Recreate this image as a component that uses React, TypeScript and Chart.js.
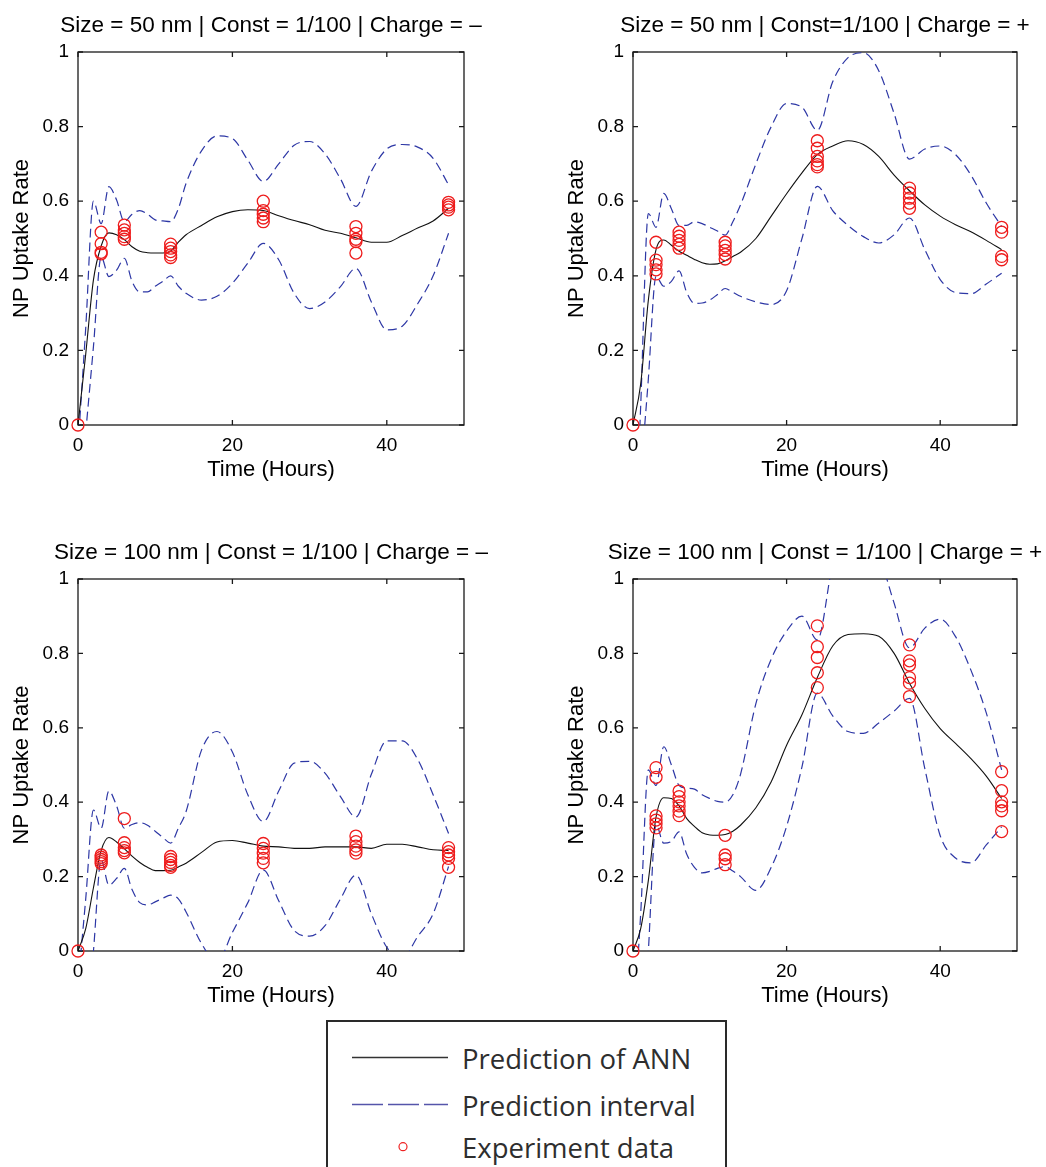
import React, { useEffect, useRef } from 'react';
import { Chart, registerables } from 'chart.js';

Chart.register(...registerables);

// ---------- shared data ----------
const HOURS = [0, 1, 2, 3, 4, 5, 6, 7, 8, 9, 10, 11, 12, 13, 14, 16, 18, 20, 22, 24, 26, 28, 30, 32, 34, 36, 38, 40, 42, 44, 46, 48];
const SAMPLE_HOURS = [0, 3, 6, 12, 24, 36, 48];
const X_TICKS = [0, 20, 40];
const Y_TICKS = [0, 0.2, 0.4, 0.6, 0.8, 1];
const X_LABEL = 'Time (Hours)';
const Y_LABEL = 'NP Uptake Rate';
const LEGEND_LABELS = ['Prediction of ANN', 'Prediction interval', 'Experiment data'];

// ---------- panel 1 : 50 nm, charge - ----------
const P1_TITLE = 'Size = 50 nm | Const = 1/100 | Charge = \u2013';
const P1_ANN = [0, 0.19, 0.389, 0.48, 0.515, 0.51, 0.497, 0.478, 0.466, 0.462, 0.461, 0.461, 0.466, 0.49, 0.51, 0.535, 0.558, 0.572, 0.577, 0.575, 0.561, 0.548, 0.537, 0.522, 0.514, 0.502, 0.49, 0.49, 0.508, 0.528, 0.547, 0.581];
const P1_UPPER = [-0.06, 0.26, 0.6, 0.54, 0.639, 0.603, 0.545, 0.565, 0.575, 0.565, 0.55, 0.547, 0.545, 0.58, 0.648, 0.735, 0.775, 0.768, 0.71, 0.653, 0.7, 0.75, 0.76, 0.727, 0.66, 0.586, 0.68, 0.74, 0.752, 0.745, 0.715, 0.644];
const P1_LOWER = [-0.25, -0.02, 0.21, 0.451, 0.398, 0.415, 0.447, 0.385, 0.357, 0.357, 0.372, 0.385, 0.4, 0.372, 0.353, 0.335, 0.345, 0.38, 0.434, 0.487, 0.443, 0.353, 0.312, 0.33, 0.371, 0.42, 0.33, 0.255, 0.265, 0.325, 0.4, 0.514];
const P1_EXP = [[0], [0.517, 0.486, 0.463, 0.459], [0.536, 0.523, 0.514, 0.505, 0.498], [0.485, 0.474, 0.465, 0.456, 0.449], [0.6, 0.575, 0.565, 0.555, 0.545], [0.532, 0.514, 0.498, 0.492, 0.461], [0.597, 0.59, 0.584, 0.577]];

// ---------- panel 2 : 50 nm, charge + ----------
const P2_TITLE = 'Size = 50 nm | Const=1/100 | Charge = +';
const P2_ANN = [0, 0.11, 0.335, 0.47, 0.496, 0.482, 0.466, 0.455, 0.444, 0.435, 0.431, 0.432, 0.44, 0.452, 0.463, 0.5, 0.56, 0.62, 0.676, 0.725, 0.748, 0.762, 0.752, 0.72, 0.67, 0.628, 0.59, 0.56, 0.537, 0.518, 0.495, 0.47];
const P2_UPPER = [-0.46, 0.05, 0.567, 0.53, 0.621, 0.58, 0.535, 0.535, 0.545, 0.54, 0.53, 0.52, 0.509, 0.545, 0.59, 0.7, 0.8, 0.862, 0.852, 0.79, 0.92, 0.985, 0.998, 0.95, 0.835, 0.713, 0.74, 0.748, 0.725, 0.67, 0.595, 0.532];
const P2_LOWER = [-0.6, -0.16, 0.124, 0.398, 0.372, 0.385, 0.413, 0.355, 0.326, 0.327, 0.335, 0.35, 0.366, 0.356, 0.345, 0.33, 0.323, 0.36, 0.5, 0.64, 0.575, 0.535, 0.505, 0.488, 0.51, 0.555, 0.47, 0.39, 0.355, 0.352, 0.378, 0.407];
const P2_EXP = [[0], [0.49, 0.442, 0.43, 0.416, 0.405], [0.517, 0.506, 0.495, 0.484, 0.474], [0.49, 0.48, 0.468, 0.457, 0.445], [0.762, 0.742, 0.72, 0.708, 0.698, 0.692], [0.635, 0.622, 0.608, 0.595, 0.581], [0.53, 0.517, 0.452, 0.443]];

// ---------- panel 3 : 100 nm, charge - ----------
const P3_TITLE = 'Size = 100 nm | Const = 1/100 | Charge = \u2013';
const P3_ANN = [0, 0.06, 0.17, 0.27, 0.305, 0.293, 0.275, 0.255, 0.238, 0.225, 0.216, 0.216, 0.217, 0.226, 0.236, 0.265, 0.293, 0.297, 0.29, 0.282, 0.28, 0.276, 0.276, 0.28, 0.28, 0.28, 0.276, 0.287, 0.287, 0.28, 0.272, 0.27];
const P3_UPPER = [-0.09, 0.14, 0.379, 0.33, 0.43, 0.39, 0.33, 0.34, 0.345, 0.338, 0.322, 0.305, 0.29, 0.33, 0.375, 0.54, 0.59, 0.535, 0.42, 0.348, 0.43, 0.505, 0.51, 0.478, 0.415, 0.36, 0.475, 0.565, 0.565, 0.515, 0.42, 0.316];
const P3_LOWER = [-0.5, -0.22, 0.0, 0.245, 0.177, 0.195, 0.222, 0.165, 0.13, 0.124, 0.132, 0.142, 0.15, 0.14, 0.105, 0.02, -0.03, 0.05, 0.13, 0.218, 0.135, 0.055, 0.04, 0.068, 0.14, 0.204, 0.1, 0.01, -0.02, 0.039, 0.1, 0.227];
const P3_EXP = [[0], [0.258, 0.252, 0.246, 0.24, 0.235], [0.356, 0.291, 0.278, 0.27, 0.264], [0.254, 0.246, 0.238, 0.23, 0.225], [0.289, 0.276, 0.263, 0.249, 0.237], [0.309, 0.294, 0.282, 0.272, 0.263], [0.278, 0.267, 0.258, 0.249, 0.225]];

// ---------- panel 4 : 100 nm, charge + ----------
const P4_TITLE = 'Size = 100 nm | Const = 1/100 | Charge = +';
const P4_ANN = [0, 0.06, 0.19, 0.36, 0.412, 0.41, 0.39, 0.356, 0.335, 0.318, 0.312, 0.311, 0.313, 0.322, 0.338, 0.385, 0.455, 0.553, 0.635, 0.735, 0.82, 0.851, 0.853, 0.846, 0.8, 0.72, 0.652, 0.598, 0.558, 0.517, 0.47, 0.41];
const P4_UPPER = [-0.23, 0.1, 0.487, 0.445, 0.549, 0.5, 0.445, 0.438, 0.435, 0.42, 0.41, 0.402, 0.4, 0.42, 0.475, 0.665, 0.785, 0.86, 0.9, 0.836, 1.04, 1.15, 1.17, 1.07, 0.935, 0.815, 0.868, 0.892, 0.845, 0.755, 0.64, 0.487];
const P4_LOWER = [-0.7, -0.35, 0.0, 0.34, 0.29, 0.295, 0.32, 0.26, 0.225, 0.21, 0.214, 0.222, 0.227, 0.215, 0.2, 0.163, 0.225, 0.335, 0.495, 0.693, 0.632, 0.59, 0.585, 0.613, 0.645, 0.679, 0.49, 0.31, 0.25, 0.237, 0.285, 0.334];
const P4_EXP = [[0], [0.493, 0.467, 0.363, 0.352, 0.342, 0.331], [0.43, 0.415, 0.401, 0.39, 0.376, 0.364], [0.311, 0.258, 0.248, 0.232], [0.874, 0.818, 0.789, 0.748, 0.708], [0.823, 0.78, 0.769, 0.735, 0.72, 0.684], [0.482, 0.431, 0.401, 0.39, 0.377, 0.321]];

// ---------- styling ----------
const FONT = '"Liberation Sans", Arial, Helvetica, sans-serif';
const ANN_COLOR = '#111111';
const PI_COLOR = 'rgb(45,55,165)';
const EXP_COLOR = '#ee1c1c';
const AXIS_COLOR = '#1a1a1a';
const Y_AXIS_W = 78;
const X_AXIS_H = 75;
const TOP_PAD = 52;
const RIGHT_PAD = 29;
const TICK_LEN = 5;

type PanelSpec = {
  title: string; ann: number[]; upper: number[]; lower: number[]; exp: number[][];
  L: number; T: number; R: number; B: number;
};

const PANELS: PanelSpec[] = [
  { title: P1_TITLE, ann: P1_ANN, upper: P1_UPPER, lower: P1_LOWER, exp: P1_EXP, L: 78, T: 52, R: 464, B: 425 },
  { title: P2_TITLE, ann: P2_ANN, upper: P2_UPPER, lower: P2_LOWER, exp: P2_EXP, L: 633, T: 52, R: 1017, B: 425 },
  { title: P3_TITLE, ann: P3_ANN, upper: P3_UPPER, lower: P3_LOWER, exp: P3_EXP, L: 78, T: 579, R: 464, B: 951 },
  { title: P4_TITLE, ann: P4_ANN, upper: P4_UPPER, lower: P4_LOWER, exp: P4_EXP, L: 633, T: 579, R: 1017, B: 951 },
];

const framePlugin = {
  id: 'frame',
  beforeDatasetsDraw(chart: any) {
    const { ctx, chartArea: a, scales } = chart;
    ctx.save();
    ctx.strokeStyle = AXIS_COLOR;
    ctx.lineWidth = 1.3;
    ctx.strokeRect(a.left, a.top, a.right - a.left, a.bottom - a.top);
    ctx.beginPath();
    for (const v of X_TICKS) {
      const px = scales.x.getPixelForValue(v);
      ctx.moveTo(px, a.bottom); ctx.lineTo(px, a.bottom - TICK_LEN);
      ctx.moveTo(px, a.top); ctx.lineTo(px, a.top + TICK_LEN);
    }
    for (const v of Y_TICKS) {
      const py = scales.y.getPixelForValue(v);
      ctx.moveTo(a.left, py); ctx.lineTo(a.left + TICK_LEN, py);
      ctx.moveTo(a.right, py); ctx.lineTo(a.right - TICK_LEN, py);
    }
    ctx.stroke();
    ctx.restore();
  },
  afterDraw(chart: any, _args: any, opts: any) {
    const { ctx, chartArea: a } = chart;
    ctx.save();
    ctx.fillStyle = '#000';
    ctx.font = `22.5px ${FONT}`;
    ctx.textAlign = 'center';
    ctx.textBaseline = 'alphabetic';
    ctx.fillText(opts.title, (a.left + a.right) / 2, a.top - 20);
    ctx.restore();
  },
};

function Panel({ spec }: { spec: PanelSpec }) {
  const ref = useRef<HTMLCanvasElement>(null);
  const left = spec.L - Y_AXIS_W;
  const top = spec.T - TOP_PAD;
  const width = spec.R - spec.L + Y_AXIS_W + RIGHT_PAD;
  const height = spec.B - spec.T + TOP_PAD + X_AXIS_H;

  useEffect(() => {
    const line = (vals: number[]) => HOURS.map((t, i) => ({ x: t, y: vals[i] }));
    const expPts = spec.exp.flatMap((ys, i) => ys.map((y) => ({ x: SAMPLE_HOURS[i], y })));
    const chart = new Chart(ref.current!, {
      type: 'scatter',
      data: {
        datasets: [
          {
            type: 'scatter', label: LEGEND_LABELS[2], data: expPts,
            pointRadius: 6, pointBorderWidth: 1.3, pointBorderColor: EXP_COLOR,
            pointBackgroundColor: 'rgba(0,0,0,0)', clip: false as any,
          } as any,
          {
            type: 'line', label: LEGEND_LABELS[0], data: line(spec.ann),
            borderColor: ANN_COLOR, borderWidth: 1.1, pointRadius: 0, fill: false,
            cubicInterpolationMode: 'monotone',
          },
          {
            type: 'line', label: LEGEND_LABELS[1], data: line(spec.upper),
            borderColor: PI_COLOR, borderWidth: 1.2, borderDash: [9, 5], pointRadius: 0, fill: false,
            cubicInterpolationMode: 'monotone',
          },
          {
            type: 'line', label: LEGEND_LABELS[1], data: line(spec.lower),
            borderColor: PI_COLOR, borderWidth: 1.2, borderDash: [9, 5], pointRadius: 0, fill: false,
            cubicInterpolationMode: 'monotone',
          },
        ],
      },
      options: {
        responsive: false,
        animation: false,
        events: [],
        layout: { padding: { left: 0, top: TOP_PAD, right: RIGHT_PAD, bottom: 0 } },
        plugins: {
          legend: { display: false },
          tooltip: { enabled: false },
          frame: { title: spec.title },
        } as any,
        scales: {
          x: {
            type: 'linear', min: 0, max: 50,
            grid: { display: false, drawTicks: false },
            border: { display: false },
            afterBuildTicks: (s: any) => { s.ticks = X_TICKS.map((v) => ({ value: v })); },
            afterFit: (s: any) => { s.height = X_AXIS_H; },
            ticks: {
              color: '#000', padding: 9, maxRotation: 0, autoSkip: false,
              font: { family: FONT, size: 19 },
              callback: (v: any) => String(v),
            },
            title: {
              display: true, text: X_LABEL, color: '#000',
              font: { family: FONT, size: 22 }, padding: { top: 0, bottom: 16.8 },
            },
          },
          y: {
            type: 'linear', min: 0, max: 1,
            grid: { display: false, drawTicks: false },
            border: { display: false },
            afterBuildTicks: (s: any) => { s.ticks = Y_TICKS.map((v) => ({ value: v })); },
            afterFit: (s: any) => { s.width = Y_AXIS_W; },
            ticks: {
              color: '#000', padding: 9, autoSkip: false,
              font: { family: FONT, size: 19 },
              callback: (v: any) => String(v),
            },
            title: {
              display: true, text: Y_LABEL, color: '#000',
              font: { family: FONT, size: 22 }, padding: { top: 9, bottom: 0 },
            },
          },
        },
      } as any,
      plugins: [framePlugin],
    });
    return () => chart.destroy();
  }, []);

  return (
    <canvas
      ref={ref}
      width={width}
      height={height}
      style={{ position: 'absolute', left, top, width, height }}
    />
  );
}

function Legend() {
  const LEFT = 326, TOP = 1020, W = 401, H = 170;
  const textStyle = { fontFamily: '"Open Sans", "Noto Sans", sans-serif', fontSize: 27.5, fill: '#2e2e2e' };
  return (
    <svg
      width={W}
      height={H}
      style={{ position: 'absolute', left: LEFT, top: TOP, zIndex: 2, overflow: 'hidden' }}
    >
      <rect x={1} y={1} width={W - 2} height={H + 10} fill="#fff" stroke="#2a2a2a" strokeWidth={2} />
      <line x1={26} y1={37.5} x2={122} y2={37.5} stroke="#333" strokeWidth={1.3} />
      <line x1={26} y1={84.5} x2={122} y2={84.5} stroke="rgb(85,85,170)" strokeWidth={1.5} strokeDasharray="31 5" />
      <circle cx={77} cy={126.7} r={4} fill="none" stroke="#e22" strokeWidth={1.2} />
      <text x={136} y={49} style={textStyle as any}>{LEGEND_LABELS[0]}</text>
      <text x={136} y={96} style={textStyle as any}>{LEGEND_LABELS[1]}</text>
      <text x={136} y={138} style={textStyle as any}>{LEGEND_LABELS[2]}</text>
    </svg>
  );
}

export default function App() {
  return (
    <div
      style={{
        position: 'absolute', left: 0, top: 0, width: 1046, height: 1167,
        overflow: 'hidden', background: '#fff',
      }}
    >
      {PANELS.map((p, i) => (
        <Panel key={i} spec={p} />
      ))}
      <Legend />
    </div>
  );
}
